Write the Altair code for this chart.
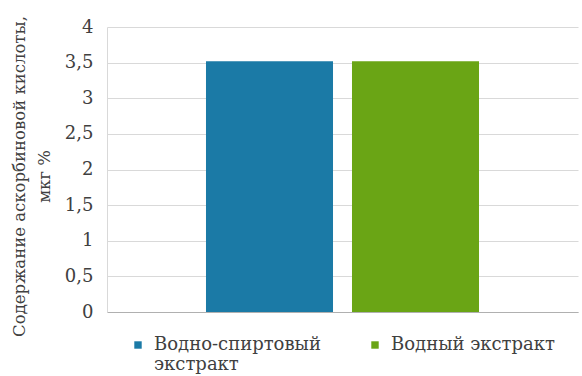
import altair as alt
import pandas as pd

# Ascorbic acid content by extract type
extracts = ["Водно-спиртовый\nэкстракт", "Водный экстракт"]
values = [3.52, 3.52]
colors = ["#1b7aa6", "#6aa515"]

df = pd.DataFrame({"extract": extracts, "value": values})

font = "DejaVu Serif"
text_color = "#404040"

# every legend label gets two lines so the entries share one height
label_expr = (
    "length(split(datum.label, '\\n')) > 1 ? split(datum.label, '\\n') : [datum.label, ' ']"
)

chart = (
    alt.Chart(df)
    .mark_bar()
    .encode(
        x=alt.X(
            "extract:N",
            sort=extracts,
            scale=alt.Scale(paddingInner=0.13, paddingOuter=0.678),
            axis=alt.Axis(
                title=None,
                labels=False,
                ticks=False,
                domainColor="#b0b0b0",
                domainWidth=1,
            ),
        ),
        y=alt.Y(
            "value:Q",
            scale=alt.Scale(domain=[0, 4]),
            axis=alt.Axis(
                values=[0, 0.5, 1, 1.5, 2, 2.5, 3, 3.5, 4],
                labelExpr="replace(format(datum.value, ''), '.', ',')",
                title=["Содержание аскорбиновой кислоты,", "мкг %"],
                titleFont=font,
                titleFontSize=16.5,
                titleFontWeight="normal",
                titleColor=text_color,
                titleAngle=-90,
                titleBaseline="top",
                titleAlign="center",
                titleX=-96,
                titleY=149,
                titleLineHeight=25,
                labelFont=font,
                labelFontSize=18,
                labelColor=text_color,
                labelPadding=14,
                ticks=False,
                domainColor="#d9d9d9",
                gridColor="#d9d9d9",
            ),
        ),
        color=alt.Color(
            "extract:N",
            sort=extracts,
            scale=alt.Scale(domain=extracts, range=colors),
            legend=alt.Legend(
                title=None,
                orient="none",
                legendX=22,
                legendY=309,
                direction="horizontal",
                columns=2,
                columnPadding=45,
                symbolType="square",
                symbolSize=55,
                symbolStrokeWidth=0,
                labelFont=font,
                labelFontSize=18,
                labelColor=text_color,
                labelLimit=300,
                labelOffset=7,
                labelExpr=label_expr,
            ),
        ),
    )
    .properties(
        width=471,
        height=285,
        autosize=alt.AutoSizeParams(type="none"),
        padding={"left": 107, "top": 27, "right": 4, "bottom": 64},
    )
    .configure_view(stroke=None)
)

chart.save("out.html", embed_options={"renderer": "svg", "actions": False})
